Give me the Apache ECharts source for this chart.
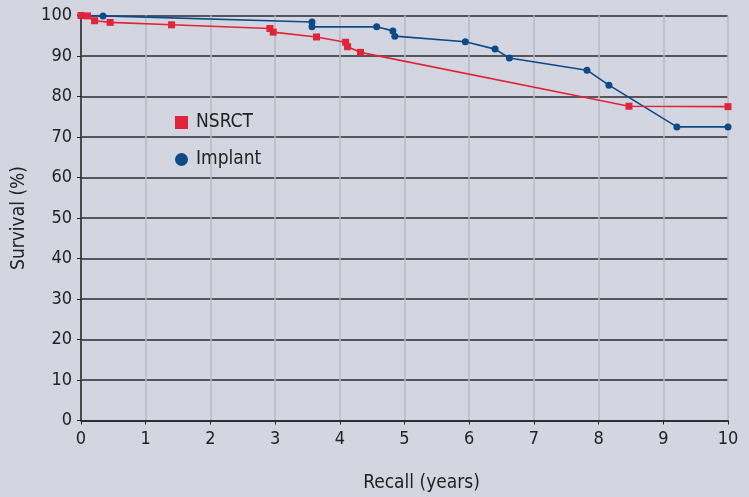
<!DOCTYPE html>
<html>
<head>
<meta charset="utf-8">
<script src="https://cdn.jsdelivr.net/npm/echarts@6/dist/echarts.min.js"></script>
<style>
    html, body { margin: 0; padding: 0; background: #d3d5e1; }
    #chart { width: 749px; height: 497px; }
</style>
</head>
<body>
<div id="chart"></div>
<script>
// survival curves, values
var nsrctX = [0, 0.1, 0.21, 0.45, 1.4, 2.92, 2.97, 3.64, 4.09, 4.12, 4.32, 8.47, 10];
var nsrctY = [100, 99.9, 98.7, 98.3, 97.7, 96.8, 95.9, 94.7, 93.4, 92.3, 90.9, 77.6, 77.5];
var implantX = [0, 0.34, 3.57, 3.57, 4.57, 4.82, 4.85, 5.94, 6.4, 6.62, 7.82, 8.16, 9.21, 10];
var implantY = [100, 99.9, 98.4, 97.2, 97.2, 96.2, 94.9, 93.5, 91.7, 89.5, 86.5, 82.8, 72.5, 72.5];
var xTicks = [0, 1, 2, 3, 4, 5, 6, 7, 8, 9, 10];

var fontFam = '"DejaVu Sans Condensed", "Liberation Sans Narrow", sans-serif';

var pairs = function (xs, ys) {
    var out = [];
    for (var i = 0; i < xs.length; i++) {
        out.push([xs[i], ys[i]]);
    }
    return out;
};

var option = {
    backgroundColor: '#d3d5e1',
    animation: false,
    textStyle: { fontFamily: fontFam },
    grid: { left: 81, right: 21, top: 15.5, bottom: 76.5, containLabel: false, outerBoundsMode: 'none' },
    legend: {
        orient: 'vertical',
        left: 170,
        top: 108,
        itemGap: 18,
        itemWidth: 13,
        itemHeight: 13,
        textStyle: { fontSize: 19, color: '#222', fontFamily: fontFam, padding: [0, 0, 0, 3] },
        data: [
            { name: 'NSRCT', icon: 'rect' },
            { name: 'Implant', icon: 'circle' }
        ]
    },
    xAxis: {
        type: 'value',
        min: 0,
        max: 10,
        interval: 1,
        name: 'Recall (years)',
        nameLocation: 'middle',
        nameGap: 53,
        nameTextStyle: { fontSize: 19, color: '#222', fontFamily: fontFam, padding: [0, 0, 0, 34] },
        axisLine: { show: true, lineStyle: { color: '#222', width: 1.5 } },
        axisTick: { show: true, length: 4, inside: false, lineStyle: { color: '#222' } },
        axisLabel: {
            fontSize: 18, color: '#222', margin: 10, fontFamily: fontFam,
            formatter: function (v) { return xTicks.indexOf(v) > -1 ? String(v) : ''; }
        },
        splitLine: { show: true, lineStyle: { color: '#b9bac2', width: 1.5 } }
    },
    yAxis: {
        type: 'value',
        min: 0,
        max: 100,
        interval: 10,
        name: 'Survival (%)',
        nameLocation: 'middle',
        nameGap: 52,
        nameTextStyle: { fontSize: 19, color: '#222', fontFamily: fontFam },
        axisLine: { show: true, lineStyle: { color: '#222', width: 1.5 } },
        axisTick: { show: true, length: 4, lineStyle: { color: '#222' } },
        axisLabel: { fontSize: 18, color: '#222', margin: 9, fontFamily: fontFam },
        splitLine: { show: true, lineStyle: { color: '#2b2b2e', width: 1.5 } }
    },
    series: [
        {
            name: 'Implant',
            type: 'line',
            data: pairs(implantX, implantY),
            symbol: 'circle',
            symbolSize: 7,
            itemStyle: { color: '#0d4a88' },
            lineStyle: { color: '#0d4a88', width: 1.6 },
            z: 3
        },
        {
            name: 'NSRCT',
            type: 'line',
            data: pairs(nsrctX, nsrctY),
            symbol: 'rect',
            symbolSize: 7,
            itemStyle: { color: '#e0243a' },
            lineStyle: { color: '#e0243a', width: 1.6 },
            z: 4
        }
    ]
};

var myChart = echarts.init(document.getElementById("chart"));
myChart.setOption(option);
</script>
</body>
</html>
